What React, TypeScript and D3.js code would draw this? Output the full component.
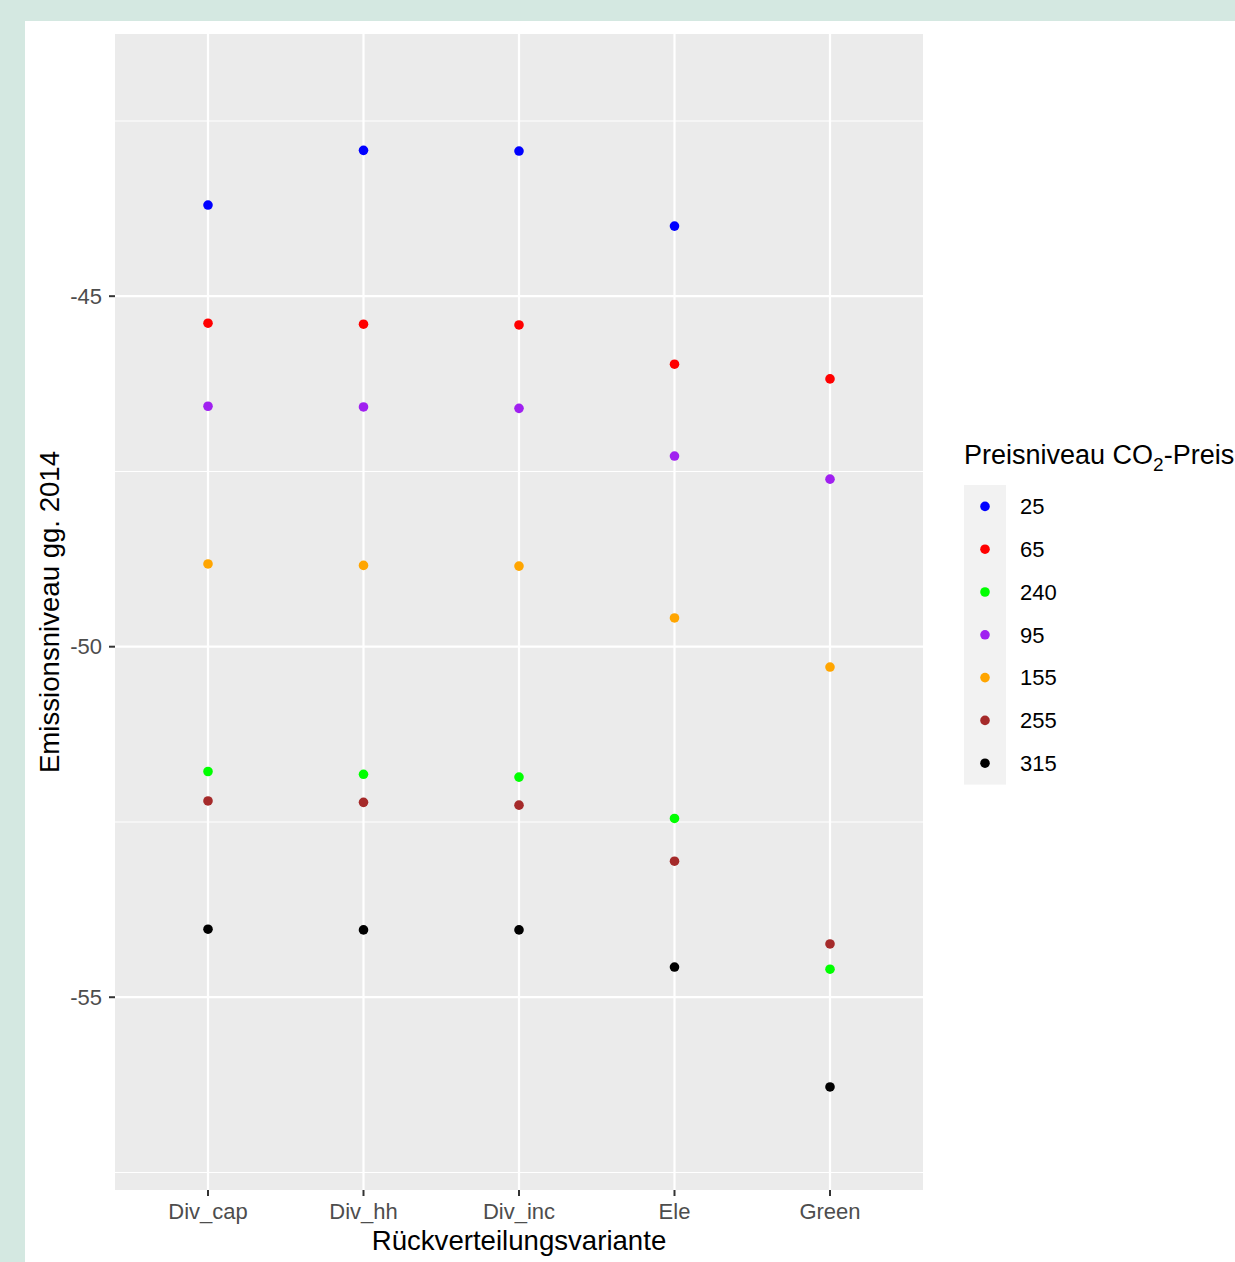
import React from "react";
import * as d3 from "d3";

const categories = ["Div_cap", "Div_hh", "Div_inc", "Ele", "Green"];
const levels = ["25", "65", "240", "95", "155", "255", "315"];
const levelColors = ["#0000FF", "#FF0000", "#00FF00", "#A020F0", "#FFA500", "#A52A2A", "#000000"];

// values per price level, ordered as categories (null = not present)
const v25 = [-43.7, -42.92, -42.93, -44.0, null];
const v65 = [-45.385, -45.4, -45.41, -45.97, -46.18];
const v240 = [-51.78, -51.82, -51.86, -52.45, -54.6];
const v95 = [-46.57, -46.58, -46.6, -47.28, -47.61];
const v155 = [-48.82, -48.84, -48.85, -49.59, -50.29];
const v255 = [-52.2, -52.22, -52.26, -53.06, -54.24];
const v315 = [-54.03, -54.04, -54.04, -54.57, -56.28];
const series = [v25, v65, v240, v95, v155, v255, v315];

const yTicks = [-45, -50, -55];
const yMinor = [-42.5, -47.5, -52.5, -57.5];

const W = 1235, H = 1262;
const panel = { x0: 115, x1: 923, y0: 34, y1: 1190 };
const FONT = "'Liberation Sans', Arial, sans-serif";

export default function App() {
  const x = d3.scalePoint<string>().domain(categories).range([114.7, 923.3]).padding(0.6);
  const y = d3.scaleLinear().domain([-57.75, -41.26]).range([panel.y1, panel.y0]);

  const points: { cx: number; cy: number; color: string; key: string }[] = [];
  series.forEach((vals, si) => {
    vals.forEach((v, ci) => {
      if (v === null) return;
      points.push({ cx: x(categories[ci])!, cy: y(v), color: levelColors[si], key: `${si}-${ci}` });
    });
  });

  const legendX = 964, legendY0 = 485, keyH = 42.8;

  return (
    <svg width={W} height={H} style={{ position: "absolute", left: 0, top: 0, display: "block" }}>
      <rect x={0} y={0} width={W} height={H} fill="#d4e8e1" />
      <rect x={25} y={21} width={W - 25} height={H - 21} fill="#ffffff" />
      <rect x={panel.x0} y={panel.y0} width={panel.x1 - panel.x0} height={panel.y1 - panel.y0} fill="#EBEBEB" />
      {yMinor.map((t) => (
        <line key={"mn" + t} x1={panel.x0} x2={panel.x1} y1={y(t)} y2={y(t)} stroke="#fff" strokeWidth={1.1} />
      ))}
      {yTicks.map((t) => (
        <line key={"mj" + t} x1={panel.x0} x2={panel.x1} y1={y(t)} y2={y(t)} stroke="#fff" strokeWidth={2.2} />
      ))}
      {categories.map((c) => (
        <line key={"vx" + c} x1={x(c)} x2={x(c)} y1={panel.y0} y2={panel.y1} stroke="#fff" strokeWidth={2.2} />
      ))}
      {points.map((p) => (
        <circle key={p.key} cx={p.cx} cy={p.cy} r={4.8} fill={p.color} />
      ))}
      {/* y axis */}
      {yTicks.map((t) => (
        <g key={"yt" + t}>
          <line x1={panel.x0 - 6} x2={panel.x0} y1={y(t)} y2={y(t)} stroke="#333" strokeWidth={2} />
          <text x={panel.x0 - 13} y={y(t)} dy="0.35em" textAnchor="end" fontFamily={FONT} fontSize={22} fill="#4D4D4D">
            {t}
          </text>
        </g>
      ))}
      {/* x axis */}
      {categories.map((c) => (
        <g key={"xt" + c}>
          <line x1={x(c)} x2={x(c)} y1={panel.y1} y2={panel.y1 + 6} stroke="#333" strokeWidth={2} />
          <text x={x(c)} y={panel.y1 + 29} textAnchor="middle" fontFamily={FONT} fontSize={22} fill="#4D4D4D">
            {c}
          </text>
        </g>
      ))}
      <text x={519} y={1250} textAnchor="middle" fontFamily={FONT} fontSize={27.6} fill="#000">
        Rückverteilungsvariante
      </text>
      <text
        transform={`translate(59, ${(panel.y0 + panel.y1) / 2}) rotate(-90)`}
        textAnchor="middle"
        fontFamily={FONT}
        fontSize={27.6}
        fill="#000"
      >
        Emissionsniveau gg. 2014
      </text>
      {/* legend */}
      <text x={legendX} y={464} fontFamily={FONT} fontSize={27} fill="#000">
        Preisniveau CO<tspan fontSize={19} dy={7}>2</tspan>
        <tspan dy={-7}>-Preis</tspan>
      </text>
      <rect x={legendX} y={legendY0} width={42} height={keyH * levels.length} fill="#F2F2F2" />
      {levels.map((l, i) => {
        const cy = legendY0 + keyH * (i + 0.5);
        return (
          <g key={"lg" + l}>
            <circle cx={legendX + 21} cy={cy} r={4.8} fill={levelColors[i]} />
            <text x={1020} y={cy} dy="0.35em" fontFamily={FONT} fontSize={22} fill="#000">
              {l}
            </text>
          </g>
        );
      })}
    </svg>
  );
}
